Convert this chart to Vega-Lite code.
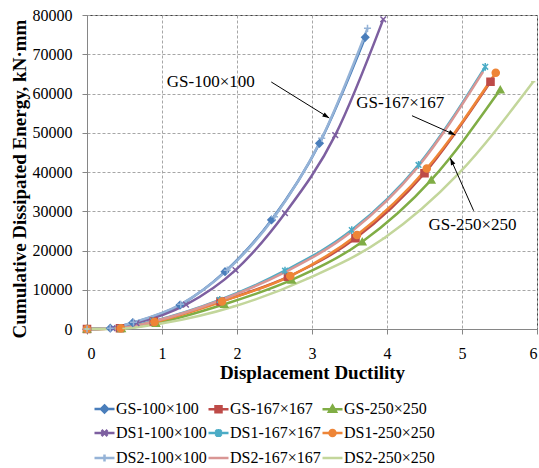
{
  "$schema": "https://vega.github.io/schema/vega-lite/v6.json",
  "width": 450,
  "height": 314,
  "autosize": "none",
  "padding": {"left": 87, "top": 15, "right": 2, "bottom": 139},
  "background": "white",
  "config": {
    "font": "Liberation Serif",
    "view": {"stroke": "#404040", "strokeWidth": 1},
    "axis": {
      "labelFont": "Liberation Serif", "labelFontSize": 16, "labelColor": "#000",
      "titleFont": "Liberation Serif", "titleFontSize": 19, "titleFontWeight": "bold", "titleColor": "#000",
      "gridColor": "#a6a6a6", "gridDash": [3, 2], "gridWidth": 1,
      "domainColor": "#868686", "tickColor": "#868686", "tickSize": 5
    }
  },
  "datasets": {
    "curves": [
      {"s": "GS-100×100", "x": 0, "e": 0}, {"s": "GS-100×100", "x": 0.31, "e": 200}, {"s": "GS-100×100", "x": 0.61, "e": 1600}, {"s": "GS-100×100", "x": 1.24, "e": 6100}, {"s": "GS-100×100", "x": 1.84, "e": 14600}, {"s": "GS-100×100", "x": 2.46, "e": 27800}, {"s": "GS-100×100", "x": 3.10, "e": 47300}, {"s": "GS-100×100", "x": 3.71, "e": 74300},
      {"s": "GS-167×167", "x": 0, "e": 0}, {"s": "GS-167×167", "x": 0.44, "e": 200}, {"s": "GS-167×167", "x": 0.89, "e": 1900}, {"s": "GS-167×167", "x": 1.78, "e": 7000}, {"s": "GS-167×167", "x": 2.68, "e": 13300}, {"s": "GS-167×167", "x": 3.58, "e": 23100}, {"s": "GS-167×167", "x": 4.50, "e": 39700}, {"s": "GS-167×167", "x": 5.38, "e": 63000},
      {"s": "GS-250×250", "x": 0, "e": 0}, {"s": "GS-250×250", "x": 0.46, "e": 150}, {"s": "GS-250×250", "x": 0.92, "e": 1500}, {"s": "GS-250×250", "x": 1.83, "e": 6300}, {"s": "GS-250×250", "x": 2.73, "e": 12500}, {"s": "GS-250×250", "x": 3.67, "e": 22250}, {"s": "GS-250×250", "x": 4.59, "e": 38000}, {"s": "GS-250×250", "x": 5.51, "e": 61000},
      {"s": "DS1-100×100", "x": 0, "e": 0}, {"s": "DS1-100×100", "x": 0.34, "e": 200}, {"s": "DS1-100×100", "x": 0.66, "e": 1500}, {"s": "DS1-100×100", "x": 1.32, "e": 6200}, {"s": "DS1-100×100", "x": 1.98, "e": 15000}, {"s": "DS1-100×100", "x": 2.64, "e": 29500}, {"s": "DS1-100×100", "x": 3.31, "e": 49400}, {"s": "DS1-100×100", "x": 3.95, "e": 78900},
      {"s": "DS1-167×167", "x": 0, "e": 0}, {"s": "DS1-167×167", "x": 0.44, "e": 250}, {"s": "DS1-167×167", "x": 0.88, "e": 2000}, {"s": "DS1-167×167", "x": 1.77, "e": 7400}, {"s": "DS1-167×167", "x": 2.64, "e": 14850}, {"s": "DS1-167×167", "x": 3.53, "e": 25200}, {"s": "DS1-167×167", "x": 4.42, "e": 41800}, {"s": "DS1-167×167", "x": 5.31, "e": 66800},
      {"s": "DS1-250×250", "x": 0, "e": 0}, {"s": "DS1-250×250", "x": 0.45, "e": 200}, {"s": "DS1-250×250", "x": 0.90, "e": 1800}, {"s": "DS1-250×250", "x": 1.80, "e": 7000}, {"s": "DS1-250×250", "x": 2.71, "e": 13500}, {"s": "DS1-250×250", "x": 3.60, "e": 23950}, {"s": "DS1-250×250", "x": 4.53, "e": 40900}, {"s": "DS1-250×250", "x": 5.45, "e": 65300},
      {"s": "DS2-100×100", "x": 0, "e": 0}, {"s": "DS2-100×100", "x": 0.31, "e": 200}, {"s": "DS2-100×100", "x": 0.62, "e": 1700}, {"s": "DS2-100×100", "x": 1.25, "e": 6300}, {"s": "DS2-100×100", "x": 1.87, "e": 15000}, {"s": "DS2-100×100", "x": 2.50, "e": 28600}, {"s": "DS2-100×100", "x": 3.13, "e": 48600}, {"s": "DS2-100×100", "x": 3.74, "e": 76600},
      {"s": "DS2-167×167", "x": 0, "e": 0}, {"s": "DS2-167×167", "x": 0.44, "e": 200}, {"s": "DS2-167×167", "x": 0.88, "e": 1900}, {"s": "DS2-167×167", "x": 1.76, "e": 7200}, {"s": "DS2-167×167", "x": 2.64, "e": 14500}, {"s": "DS2-167×167", "x": 3.52, "e": 24700}, {"s": "DS2-167×167", "x": 4.40, "e": 41000}, {"s": "DS2-167×167", "x": 5.28, "e": 65500},
      {"s": "DS2-250×250", "x": 0, "e": 0}, {"s": "DS2-250×250", "x": 0.50, "e": 150}, {"s": "DS2-250×250", "x": 0.99, "e": 1400}, {"s": "DS2-250×250", "x": 1.97, "e": 5800}, {"s": "DS2-250×250", "x": 2.95, "e": 12900}, {"s": "DS2-250×250", "x": 3.96, "e": 23100}, {"s": "DS2-250×250", "x": 4.95, "e": 39500}, {"s": "DS2-250×250", "x": 5.95, "e": 63000}
    ],
    "notes": [
      {"label": "GS-100×100", "x": 1.651, "e": 62930},
      {"label": "GS-167×167", "x": 4.177, "e": 57660},
      {"label": "GS-250×250", "x": 5.141, "e": 26500}
    ],
    "arrows": [
      {"id": "a", "x": 2.457, "e": 62930, "x2": 3.23, "e2": 53760},
      {"id": "b", "x": 4.333, "e": 54340, "x2": 4.911, "e2": 49430},
      {"id": "c", "x": 5.155, "e": 30140, "x2": 4.845, "e2": 43490}
    ]
  },
  "encoding": {
    "x": {
      "field": "x", "type": "quantitative",
      "scale": {"domain": [0, 6], "nice": false, "zero": false},
      "axis": {"values": [0, 1, 2, 3, 4, 5, 6], "title": "Displacement Ductility", "labelPadding": 11, "titleY": 49, "titleBaseline": "alphabetic"}
    },
    "y": {
      "field": "e", "type": "quantitative",
      "scale": {"domain": [0, 80000], "nice": false},
      "axis": {"values": [0, 10000, 20000, 30000, 40000, 50000, 60000, 70000, 80000], "format": "d", "labelPadding": 10, "title": "Cumulative Dissipated Energy, kN·mm", "titleX": -61.5, "titleY": 163.5, "titleBaseline": "alphabetic", "titleAlign": "center"}
    }
  },
  "layer": [
    {
      "data": {"name": "curves"},
      "mark": {"type": "line", "interpolate": "monotone", "strokeWidth": 2.5},
      "encoding": {
        "color": {
          "field": "s", "type": "nominal",
          "scale": {
            "domain": ["GS-100×100", "GS-167×167", "GS-250×250", "DS1-100×100", "DS1-167×167", "DS1-250×250", "DS2-100×100", "DS2-167×167", "DS2-250×250"],
            "range": ["#4a7ebb", "#be4b48", "#80ad45", "#7d5fa0", "#4bacc6", "#ee8537", "#95b3d7", "#d99694", "#c3d69b"]
          },
          "legend": {
            "title": null, "orient": "none", "legendX": 6, "legendY": 382.5, "direction": "horizontal",
            "columns": 3, "columnPadding": -4, "rowPadding": 4, "padding": 0,
            "labelFont": "Liberation Serif", "labelFontSize": 16, "labelColor": "#000", "labelOffset": 0, "labelLimit": 0,
            "symbolSize": 400, "symbolStrokeWidth": 2.5,
            "encode": {
              "symbols": {
                "update": {
                  "shape": {"signal": "['M-1,0L1,0M0,-0.35L0.35,0L0,0.35L-0.35,0Z','M-1,0L1,0M-0.3,-0.3L0.3,-0.3L0.3,0.3L-0.3,0.3Z','M-1,0L1,0M0,-0.35L0.35,0.25L-0.35,0.25Z','M-1,0L1,0M-0.3,-0.3L0.3,0.3M-0.3,0.3L0.3,-0.3','M-1,0L1,0M-0.3,-0.3L0.3,0.3M-0.3,0.3L0.3,-0.3M0,-0.4L0,0.4','M-1,0L1,0M0.3,0A0.3,0.3 0 1,1 -0.3,0A0.3,0.3 0 1,1 0.3,0Z','M-1,0L1,0M0,-0.35L0,0.35','M-1,0L1,0','M-1,0L1,0'][indexof(['GS-100×100','GS-167×167','GS-250×250','DS1-100×100','DS1-167×167','DS1-250×250','DS2-100×100','DS2-167×167','DS2-250×250'], datum.value)]"},
                  "stroke": {"signal": "scale('color', datum.value)"},
                  "fill": {"signal": "scale('color', datum.value)"},
                  "strokeWidth": {"value": 2.5},
                  "size": {"value": 400},
                  "opacity": {"value": 1}
                }
              }
            }
          }
        }
      }
    },
    {
      "data": {"name": "curves"},
      "mark": {"type": "point", "filled": true, "size": 50, "strokeWidth": 1.5, "opacity": 1},
      "encoding": {
        "fill": {
          "field": "s", "type": "nominal", "legend": null,
          "scale": {"range": ["#7d5fa0", "#4bacc6", "#ee8537", "#95b3d7", "#d99694", "#c3d69b", "#4a7ebb", "#be4b48", "#80ad45"]}
        },
        "stroke": {
          "field": "s", "type": "nominal", "legend": null,
          "scale": {"range": ["#7d5fa0", "#4bacc6", "#ee8537", "#95b3d7", "#d99694", "#c3d69b", "#4a7ebb", "#be4b48", "#80ad45"]}
        },
        "shape": {
          "field": "s", "type": "nominal", "legend": null,
          "scale": {"range": ["M-0.8,-0.8L0.8,0.8M-0.8,0.8L0.8,-0.8", "M-0.8,-0.8L0.8,0.8M-0.8,0.8L0.8,-0.8M0,-1.1L0,1.1", "circle", "M-1,0L1,0M0,-1L0,1", "M0,0", "M-0.6,0L0.6,0", "diamond", "square", "triangle-up"]}
        }
      }
    },
    {
      "data": {"name": "arrows"},
      "mark": {"type": "rule", "color": "#000", "strokeWidth": 1},
      "encoding": {
        "x2": {"field": "x2"},
        "y2": {"field": "e2"}
      }
    },
    {
      "data": {"name": "arrows"},
      "transform": [{"filter": "datum.id === 'a'"}],
      "mark": {"type": "point", "shape": "M0,0L-0.45,1.3L0.45,1.3Z", "filled": true, "color": "#000", "size": 110, "opacity": 1, "angle": 122},
      "encoding": {"x": {"field": "x2", "type": "quantitative"}, "y": {"field": "e2", "type": "quantitative"}}
    },
    {
      "data": {"name": "arrows"},
      "transform": [{"filter": "datum.id === 'b'"}],
      "mark": {"type": "point", "shape": "M0,0L-0.45,1.3L0.45,1.3Z", "filled": true, "color": "#000", "size": 110, "opacity": 1, "angle": 114},
      "encoding": {"x": {"field": "x2", "type": "quantitative"}, "y": {"field": "e2", "type": "quantitative"}}
    },
    {
      "data": {"name": "arrows"},
      "transform": [{"filter": "datum.id === 'c'"}],
      "mark": {"type": "point", "shape": "M0,0L-0.45,1.3L0.45,1.3Z", "filled": true, "color": "#000", "size": 110, "opacity": 1, "angle": 336},
      "encoding": {"x": {"field": "x2", "type": "quantitative"}, "y": {"field": "e2", "type": "quantitative"}}
    },
    {
      "data": {"name": "notes"},
      "mark": {"type": "text", "font": "Liberation Serif", "fontSize": 17, "color": "#000", "align": "center", "baseline": "middle"},
      "encoding": {"text": {"field": "label"}}
    }
  ]
}
